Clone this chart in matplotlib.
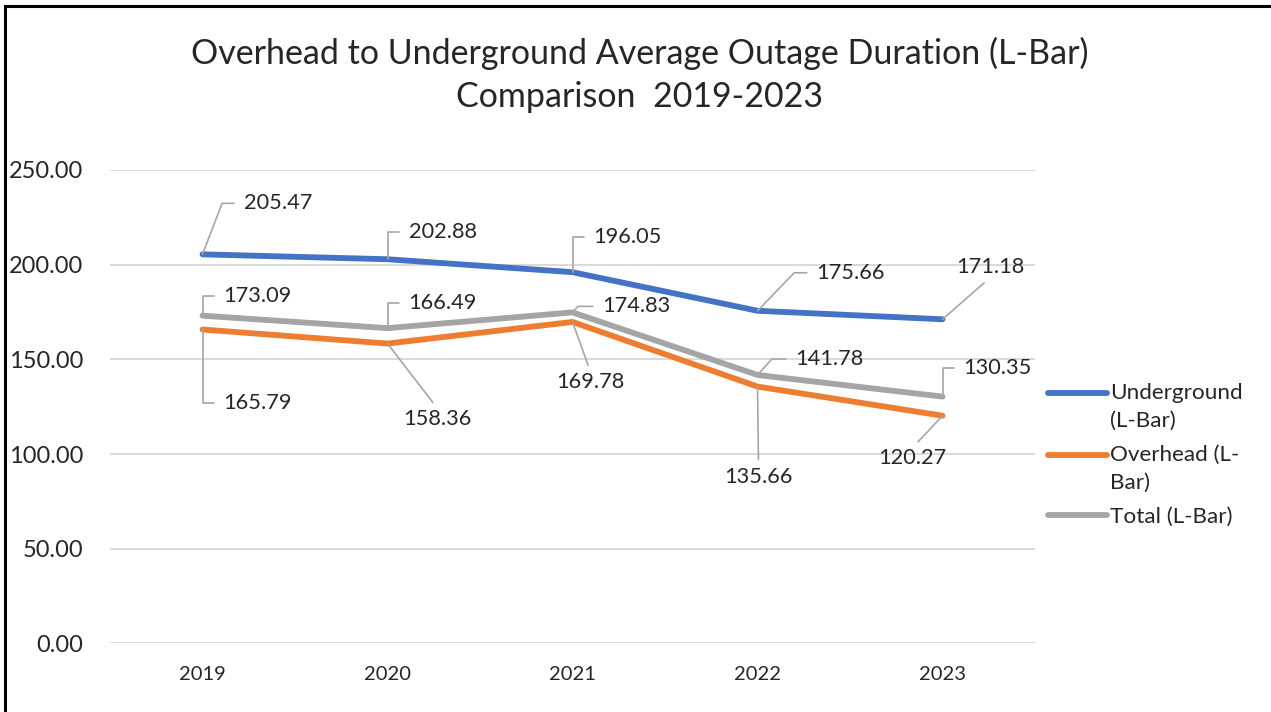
import matplotlib.pyplot as plt
from matplotlib.legend_handler import HandlerLine2D
from matplotlib.lines import Line2D
import numpy as np

years = ['2019', '2020', '2021', '2022', '2023']
underground = [205.47, 202.88, 196.05, 175.66, 171.18]
overhead = [165.79, 158.36, 169.78, 135.66, 120.27]
total = [173.09, 166.49, 174.83, 141.78, 130.35]

plt.rcParams['font.family'] = ['Lato', 'DejaVu Sans']

blue = '#4472C4'
orange = '#ED7D31'
grey = '#A5A5A5'
leader = '#A6A6A6'
txt = '#262626'

# label placement (pixel offsets from point): kind, dx, dy, leader angle
lay_u = [('r', 41, 51, 69), ('r', 21, 27, 90), ('r', 21, 35, 90), ('r', 59, 38, 46), ('a', 48, 52, 0)]
lay_o = [('r', 21, -74, 90), ('b', 50, -75, 0), ('b', 18, -60, 0), ('b', 1, -90, 0), ('b', -30, -42, 0)]
lay_t = [('r', 21, 20, 90), ('r', 21, 25, 90), ('r', 30, 6, 49), ('r', 38, 16, 48), ('r', 21, 29, 90)]

fig = plt.figure(figsize=(12.71, 7.12), dpi=100)
ax = fig.add_axes([0.08655, 0.09621, 0.7278, 0.66503])

x = np.arange(len(years))
lu, = ax.plot(x, underground, color=blue, lw=4.2, solid_capstyle='round', solid_joinstyle='round', zorder=3)
lo, = ax.plot(x, overhead, color=orange, lw=4.2, solid_capstyle='round', solid_joinstyle='round', zorder=3)
lt, = ax.plot(x, total, color=grey, lw=4.2, solid_capstyle='round', solid_joinstyle='round', zorder=3)


def labels(vals, lay):
    for i, v in enumerate(vals):
        kind, dx, dy, ang = lay[i]
        s = f'{v:.2f}'
        if kind == 'r':
            ax.annotate(s, xy=(i, v), xytext=(dx, dy), textcoords='offset pixels',
                        ha='left', va='center', fontsize=15.7, color=txt,
                        arrowprops=dict(arrowstyle='-', color=leader, lw=1.2, shrinkA=5, shrinkB=0,
                                        relpos=(0, 0.5),
                                        connectionstyle=f'angle,angleA=0,angleB={ang},rad=0'))
        else:
            rp = (0.5, 1) if kind == 'b' else (0.5, 0)
            ax.annotate(s, xy=(i, v), xytext=(dx, dy), textcoords='offset pixels',
                        ha='center', va='center', fontsize=15.7, color=txt,
                        arrowprops=dict(arrowstyle='-', color=leader, lw=1.2, shrinkA=3, shrinkB=0,
                                        relpos=rp, connectionstyle='arc3'))


labels(underground, lay_u)
labels(overhead, lay_o)
labels(total, lay_t)

ax.set_xlim(-0.5, len(years) - 0.5)
ax.set_ylim(0, 250)
ax.set_yticks(np.arange(0, 251, 50))
ax.set_yticklabels([f'{t:.2f}' for t in np.arange(0, 251, 50)])
ax.set_xticks(x)
ax.set_xticklabels(years)
ax.tick_params(axis='y', length=0, pad=19, labelsize=17, labelcolor=txt)
ax.tick_params(axis='x', length=0, pad=16, labelsize=14.5, labelcolor=txt)
ax.grid(axis='y', color='#D9D9D9', lw=1.4)
ax.set_axisbelow(True)
for sp in ax.spines.values():
    sp.set_visible(False)


class TopHandler(HandlerLine2D):
    def __init__(self, shift, **kw):
        super().__init__(**kw)
        self.shift = shift

    def create_artists(self, legend, orig_handle, xdescent, ydescent, width, height, fontsize, trans):
        arts = super().create_artists(legend, orig_handle, xdescent, ydescent, width, height, fontsize, trans)
        for a in arts:
            a.set_ydata(np.asarray(a.get_ydata()) + self.shift)
        return arts


leg = fig.legend([lu, lo, lt], ['Underground\n(L-Bar)', 'Overhead (L-\nBar)', 'Total (L-Bar)'],
                 loc='upper left', bbox_to_anchor=(1048 / 1271, 1 - 383 / 712), frameon=False,
                 fontsize=16.2, handlelength=2.6, handletextpad=0.15, labelspacing=0.62,
                 borderpad=0, borderaxespad=0,
                 handler_map={lu: TopHandler(10.3), lo: TopHandler(10.3), lt: TopHandler(0)})
for t in leg.get_texts():
    t.set_color(txt)
    t.set_linespacing(1.5)

fig.text(0.503, 1 - 75 / 712, 'Overhead to Underground Average Outage Duration (L-Bar)\nComparison  2019-2023',
         ha='center', va='center', fontsize=24.5, color=txt, linespacing=1.4)

fig.add_artist(Line2D([5 / 1271, 1], [1 - 6 / 712, 1 - 6 / 712], transform=fig.transFigure, color='black', lw=2.2))
fig.add_artist(Line2D([5 / 1271, 5 / 1271], [0, 1 - 6 / 712], transform=fig.transFigure, color='black', lw=2.2))

fig.savefig('out.png', dpi=100)
